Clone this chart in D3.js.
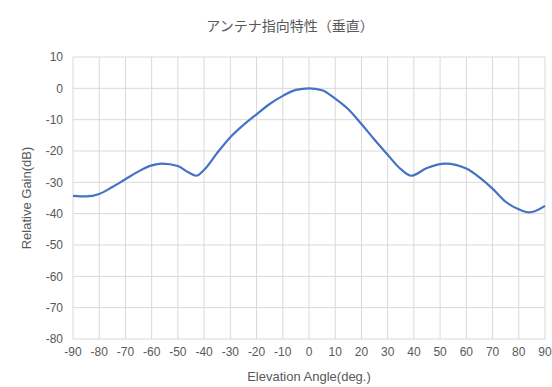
<!DOCTYPE html>
<html><head><meta charset="utf-8">
<script src="https://cdn.jsdelivr.net/npm/d3@7"></script>
<style>body{margin:0;background:#fff}svg{display:block}</style>
</head><body>
<script>
const title = "アンテナ指向特性（垂直）";
const xLabel = "Elevation Angle(deg.)";
const yLabel = "Relative Gain(dB)";
const angles = [-90,-85,-80,-75,-70,-65,-60,-56,-50,-46,-43,-40,-35,-30,-25,-20,-15,-10,-5,0,5,10,15,20,25,30,35,39,45,52,60,65,70,75,80,84,90];
const gains  = [-34.3,-34.5,-33.7,-31.5,-29,-26.5,-24.6,-24,-24.8,-26.8,-27.9,-26,-20.6,-15.6,-11.7,-8.3,-5,-2.4,-0.5,0,-0.6,-3.3,-6.7,-11.4,-16.4,-21.2,-25.8,-27.9,-25.4,-24,-25.6,-28.4,-32,-36.2,-38.6,-39.6,-37.5];
const xTicks = d3.range(-90, 91, 10);
const yTicks = d3.range(-80, 11, 10);

const W = 552, H = 387;
const m = {left:73, right:7, top:57, bottom:48};
const svg = d3.select("body").append("svg").attr("width", W).attr("height", H);
const x = d3.scaleLinear().domain([-90, 90]).range([m.left, W - m.right]);
const y = d3.scaleLinear().domain([-80, 10]).range([H - m.bottom, m.top]);
const font = "Liberation Sans, Arial, sans-serif";
const grey = "#595959";

// grid
svg.append("g").selectAll("line").data(xTicks).join("line")
  .attr("x1", d => x(d)).attr("x2", d => x(d)).attr("y1", y(10)).attr("y2", y(-80))
  .attr("stroke", "#d9d9d9").attr("stroke-width", 1);
svg.append("g").selectAll("line").data(yTicks).join("line")
  .attr("x1", x(-90)).attr("x2", x(90)).attr("y1", d => y(d)).attr("y2", d => y(d))
  .attr("stroke", "#d9d9d9").attr("stroke-width", 1);

// axes labels
svg.append("g").selectAll("text").data(yTicks).join("text")
  .attr("x", m.left - 10).attr("y", d => y(d)).attr("dy", "0.35em")
  .attr("text-anchor", "end").attr("font-family", font).attr("font-size", 12).attr("fill", grey)
  .text(d => d);
svg.append("g").selectAll("text").data(xTicks).join("text")
  .attr("x", d => x(d)).attr("y", H - m.bottom + 17)
  .attr("text-anchor", "middle").attr("font-family", font).attr("font-size", 12).attr("fill", grey)
  .text(d => d);

// line
const line = d3.line().x((d,i) => x(angles[i])).y(d => y(d)).curve(d3.curveMonotoneX);
svg.append("path").datum(gains).attr("d", line)
  .attr("fill", "none").attr("stroke", "#4472C4").attr("stroke-width", 2.2).attr("stroke-linejoin", "round");

// titles
svg.append("text").attr("x", 290).attr("y", 31).attr("text-anchor", "middle")
  .attr("font-family", "Noto Sans CJK JP, sans-serif").attr("font-size", 14).attr("fill", grey).text(title);
svg.append("text").attr("x", (x(-90)+x(90))/2).attr("y", H - 6).attr("text-anchor", "middle")
  .attr("font-family", font).attr("font-size", 13).attr("fill", grey).text(xLabel);
svg.append("text").attr("transform", `translate(31,${(y(10)+y(-80))/2}) rotate(-90)`).attr("text-anchor", "middle")
  .attr("font-family", font).attr("font-size", 13).attr("fill", grey).text(yLabel);
</script>
</body></html>
